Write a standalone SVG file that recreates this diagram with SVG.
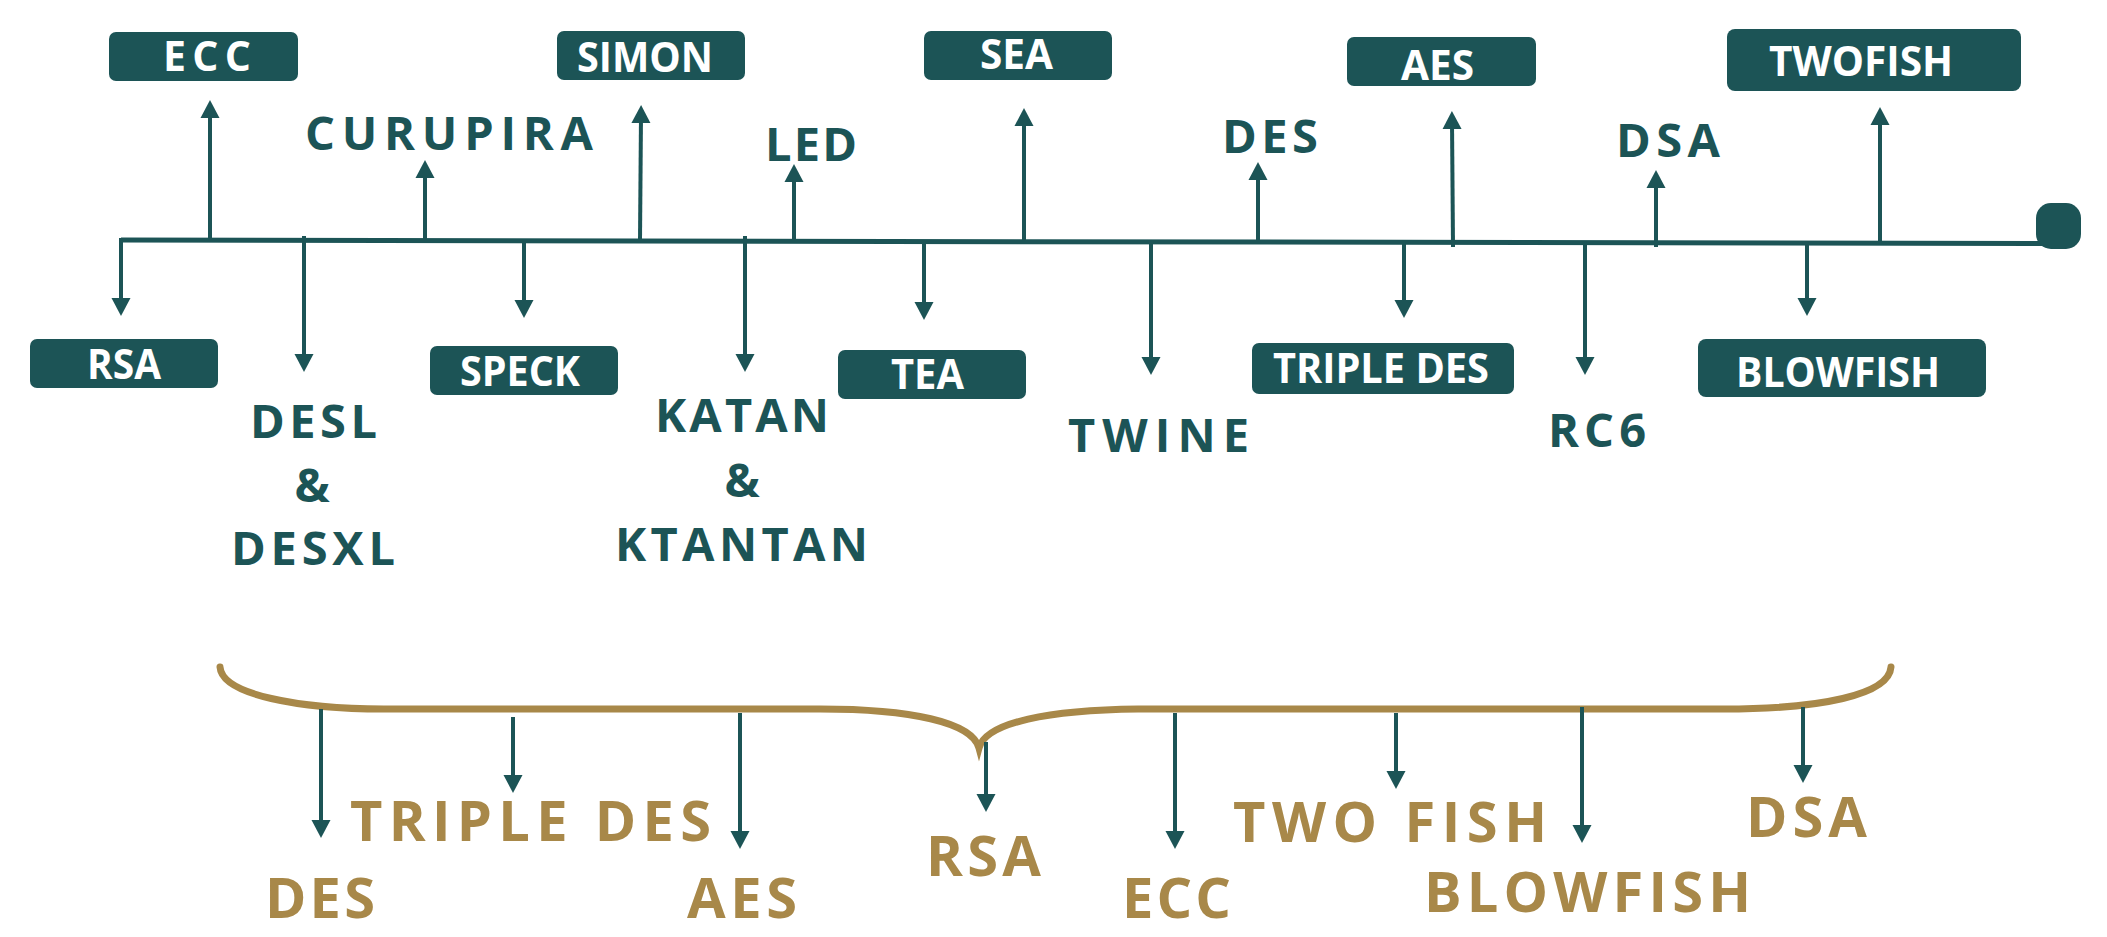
<svg xmlns="http://www.w3.org/2000/svg" width="2107" height="937" viewBox="0 0 2107 937">
<defs>
<style>
.box{fill:#1C5456;}
.bt{font-family:"Open Sans","Liberation Sans",sans-serif;font-weight:700;font-size:41px;fill:#FFFFFF;}
.lt{font-family:"Open Sans","Liberation Sans",sans-serif;font-weight:700;font-size:47px;fill:#1C5456;}
.gt{font-family:"Open Sans","Liberation Sans",sans-serif;font-weight:700;font-size:56px;fill:#A88849;}
.ar{stroke:#1C5456;stroke-width:4;fill:none;marker-end:url(#ah);}
.main{stroke:#1C5456;stroke-width:5;fill:none;}
.brace{stroke:#A88849;stroke-width:7;fill:none;stroke-linecap:round;}
</style>
<marker id="ah" markerUnits="userSpaceOnUse" markerWidth="20" markerHeight="20" viewBox="0 0 18 20" refX="8" refY="10" orient="auto">
<path d="M0,0.5 L18,10 L0,19.5 z" fill="#1C5456"/>
</marker>
</defs>
<rect width="2107" height="937" fill="#FFFFFF"/>

<g id="connectors">
<path class="main" d="M121,240 L2045,243.5"/>
<rect x="2036" y="203" width="45" height="46" rx="15" fill="#1C5456"/>
<path class="ar" d="M210,240 L210,110"/>
<path class="ar" d="M425,240 L425,170"/>
<path class="ar" d="M640,240 L641,115"/>
<path class="ar" d="M794,241 L794,174"/>
<path class="ar" d="M1024,241 L1024,118"/>
<path class="ar" d="M1258,241 L1258,172"/>
<path class="ar" d="M1453,247 L1452,121"/>
<path class="ar" d="M1656,247 L1656,180"/>
<path class="ar" d="M1880,243 L1880,117"/>
<path class="ar" d="M121,238 L121,306"/>
<path class="ar" d="M304,236 L304,362"/>
<path class="ar" d="M524,242 L524,308"/>
<path class="ar" d="M745,236 L745,362"/>
<path class="ar" d="M924,243 L924,310"/>
<path class="ar" d="M1151,243 L1151,365"/>
<path class="ar" d="M1404,243 L1404,308"/>
<path class="ar" d="M1585,243 L1585,365"/>
<path class="ar" d="M1807,243 L1807,306"/>
<path class="brace" d="M220,667 C222,695 300,709 384,709 L820,709 C910,709 972,722 979,748 C986,722 1050,710 1138,709 L1724,709 C1820,709 1889,695 1891,667"/>
<path class="ar" d="M321,709 L321,828"/>
<path class="ar" d="M513,717 L513,783"/>
<path class="ar" d="M740,713 L740,839"/>
<path class="ar" d="M986,742 L986,802"/>
<path class="ar" d="M1175,713 L1175,839"/>
<path class="ar" d="M1396,713 L1396,779"/>
<path class="ar" d="M1582,707 L1582,833"/>
<path class="ar" d="M1803,707 L1803,773"/>
</g>

<g id="node-ecc"><rect class="box" x="109" y="32" width="189" height="49" rx="7"/><text class="bt" x="163" y="71" textLength="88" lengthAdjust="spacing">ECC</text></g>
<g id="node-simon"><rect class="box" x="557" y="31" width="188" height="49" rx="7"/><text class="bt" x="577" y="72" textLength="136" lengthAdjust="spacingAndGlyphs">SIMON</text></g>
<g id="node-sea"><rect class="box" x="924" y="31" width="188" height="49" rx="7"/><text class="bt" x="980" y="69" textLength="73" lengthAdjust="spacingAndGlyphs">SEA</text></g>
<g id="node-aes"><rect class="box" x="1347" y="37" width="189" height="49" rx="7"/><text class="bt" x="1401" y="80" textLength="73" lengthAdjust="spacingAndGlyphs">AES</text></g>
<g id="node-twofish"><rect class="box" x="1727" y="29" width="294" height="62" rx="8"/><text class="bt" x="1769" y="76" textLength="184" lengthAdjust="spacingAndGlyphs">TWOFISH</text></g>
<g id="node-rsa"><rect class="box" x="30" y="339" width="188" height="49" rx="7"/><text class="bt" x="87" y="379" textLength="74" lengthAdjust="spacingAndGlyphs">RSA</text></g>
<g id="node-speck"><rect class="box" x="430" y="346" width="188" height="49" rx="7"/><text class="bt" x="460" y="386" textLength="120" lengthAdjust="spacingAndGlyphs">SPECK</text></g>
<g id="node-tea"><rect class="box" x="838" y="350" width="188" height="49" rx="7"/><text class="bt" x="891" y="389" textLength="73" lengthAdjust="spacingAndGlyphs">TEA</text></g>
<g id="node-tripledes"><rect class="box" x="1252" y="343" width="262" height="51" rx="7"/><text class="bt" x="1273" y="383" textLength="216" lengthAdjust="spacingAndGlyphs">TRIPLE DES</text></g>
<g id="node-blowfish"><rect class="box" x="1698" y="339" width="288" height="58" rx="8"/><text class="bt" x="1736" y="387" textLength="204" lengthAdjust="spacingAndGlyphs">BLOWFISH</text></g>

<g id="node-curupira"><text class="lt" x="305" y="150" textLength="288" lengthAdjust="spacing">CURUPIRA</text></g>
<g id="node-led"><text class="lt" x="765" y="161" textLength="92" lengthAdjust="spacing">LED</text></g>
<g id="node-des"><text class="lt" x="1222" y="153" textLength="96" lengthAdjust="spacing">DES</text></g>
<g id="node-dsa"><text class="lt" x="1616" y="157" textLength="104" lengthAdjust="spacing">DSA</text></g>
<g id="node-desl"><text class="lt" x="250" y="438" textLength="127" lengthAdjust="spacing">DESL</text><text class="lt" x="312" y="502" text-anchor="middle">&amp;</text><text class="lt" x="231" y="565" textLength="164" lengthAdjust="spacing">DESXL</text></g>
<g id="node-katan"><text class="lt" x="655" y="432" textLength="174" lengthAdjust="spacing">KATAN</text><text class="lt" x="742" y="497" text-anchor="middle">&amp;</text><text class="lt" x="615" y="561" textLength="253" lengthAdjust="spacing">KTANTAN</text></g>
<g id="node-twine"><text class="lt" x="1068" y="452" textLength="181" lengthAdjust="spacing">TWINE</text></g>
<g id="node-rc6"><text class="lt" x="1548" y="447" textLength="98" lengthAdjust="spacing">RC6</text></g>

<g id="node-b-des"><text class="gt" x="265" y="918" textLength="110" lengthAdjust="spacing">DES</text></g>
<g id="node-b-tripledes"><text class="gt" x="350" y="841" textLength="361" lengthAdjust="spacing">TRIPLE DES</text></g>
<g id="node-b-aes"><text class="gt" x="687" y="918" textLength="110" lengthAdjust="spacing">AES</text></g>
<g id="node-b-rsa"><text class="gt" x="926" y="876" textLength="115" lengthAdjust="spacing">RSA</text></g>
<g id="node-b-ecc"><text class="gt" x="1122" y="918" textLength="109" lengthAdjust="spacing">ECC</text></g>
<g id="node-b-twofish"><text class="gt" x="1233" y="842" textLength="314" lengthAdjust="spacing">TWO FISH</text></g>
<g id="node-b-blowfish"><text class="gt" x="1424" y="912" textLength="327" lengthAdjust="spacing">BLOWFISH</text></g>
<g id="node-b-dsa"><text class="gt" x="1746" y="837" textLength="121" lengthAdjust="spacing">DSA</text></g>
</svg>
